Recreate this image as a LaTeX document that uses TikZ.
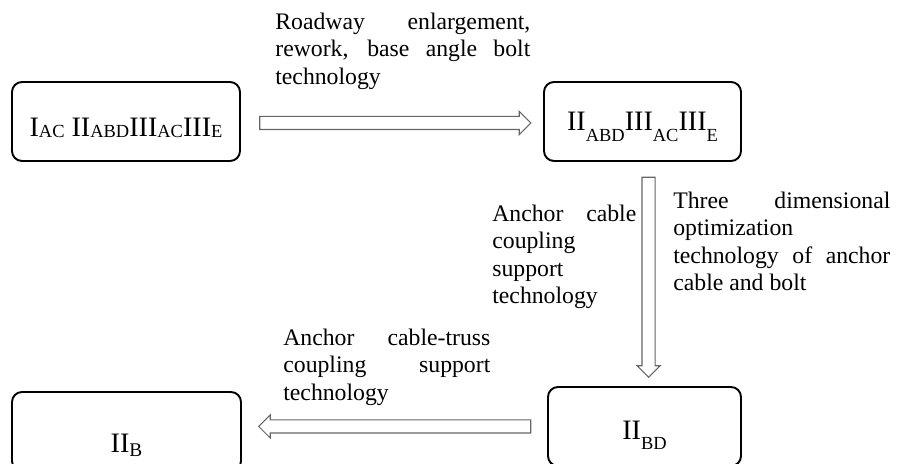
\documentclass[tikz,border=0pt]{standalone}
\usepackage{fontspec}
\setmainfont{Liberation Serif}
\usetikzlibrary{shapes.arrows}

% subscripts: one sitting on the baseline, one dropped well below it
\newcommand{\flatsub}[1]{\raisebox{-0.4pt}{\fontsize{10.5}{10.5}\selectfont #1}}
\newcommand{\lowsub}[1]{\raisebox{-5.8pt}{\fontsize{10.5}{10.5}\selectfont #1}}

\begin{document}
\begin{tikzpicture}[
  stage/.style={
    draw=black,
    line width=1.1pt,
    rounded corners=0.2cm,
    minimum height=1.58cm,
    inner sep=0pt,
    text depth=0pt,
    font=\fontsize{16}{18}\selectfont,
  },
  blockarrow/.style={
    single arrow,
    draw=black!60,
    fill=white,
    line width=0.6pt,
    inner xsep=0pt,
    inner ysep=0.12cm,
    minimum width=0.44cm,
    single arrow head extend=0.1cm,
  },
  note/.style={
    anchor=north west,
    inner sep=0pt,
    align=justify,
    font=\fontsize{13.5}{15.6}\selectfont,
  }
]
  \useasboundingbox (0,0) rectangle (18.02,9.28);
  \clip (0,0) rectangle (18.02,9.28);

  % === Stages of the surrounding rock ===
  \node[stage, minimum width=4.56cm, text height=17.2pt] (s-start) at (2.52,6.85)
    {I\flatsub{AC} II\flatsub{ABD}III\flatsub{AC}III\flatsub{E}};
  \node[stage, minimum width=3.94cm, text height=10.8pt] (s-mid) at (12.85,6.85)
    {II\lowsub{ABD}III\lowsub{AC}III\lowsub{E}};
  \node[stage, minimum width=3.86cm, text height=14.6pt] (s-bd) at (12.89,0.75)
    {II\lowsub{BD}};
  \node[stage, minimum width=4.58cm, text height=24.4pt] (s-b) at (2.53,0.65)
    {II\raisebox{-2.3pt}{\fontsize{11}{11}\selectfont B}};

  % Hollow arrows between the stages
  \path (s-start.east) -- (s-mid.west)
    node[midway, blockarrow, yshift=-0.03cm, minimum height=5.42cm] (a-top) {};
  \path (s-mid.south) -- (s-bd.north)
    node[midway, blockarrow, xshift=0.1cm, rotate=-90, minimum height=4.0cm] (a-down) {};
  \path (s-bd.west) -- (s-b.east |- s-bd.west)
    node[midway, blockarrow, xshift=0.07cm, rotate=180, minimum height=5.44cm] (a-left) {};

  % Technologies written beside the arrows
  \node[note, text width=5.10cm] (n-top) at (5.50,9.026)
    {Roadway enlargement,\linebreak rework, base angle bolt\linebreak technology};
  \node[note, text width=2.88cm] (n-cable) at (9.84,5.192)
    {Anchor cable\linebreak coupling\\ support\\ technology};
  \node[note, text width=4.34cm] (n-3d) at (13.46,5.446)
    {Three dimensional\linebreak optimization\\ technology of anchor\linebreak cable and bolt};
  \node[note, text width=4.14cm] (n-truss) at (5.66,2.706)
    {Anchor cable-truss\linebreak coupling support\linebreak technology};

\end{tikzpicture}
\end{document}
